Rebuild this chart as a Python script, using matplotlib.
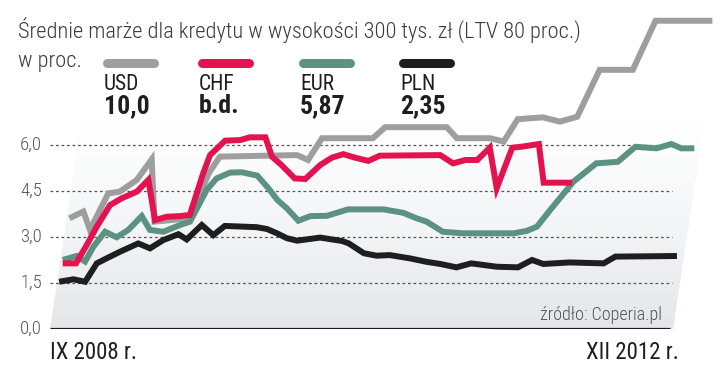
import numpy as np
import matplotlib
matplotlib.use("Agg")
import matplotlib.pyplot as plt
from matplotlib import font_manager
from matplotlib.patches import Polygon
from matplotlib.lines import Line2D

# months since IX 2008 and margins in %
usd_t = [0.06, 1.16, 1.95, 3.03, 4.0, 5.27, 6.27, 7.3, 9.4, 10.2, 11.3, 12.0, 18.5, 19.5, 20.4,
         24.7, 25.6, 30.8, 31.8, 34.6, 35.8, 36.7, 38.8, 40.3, 41.7, 43.0, 45.8, 47.1, 51.9]
usd_v = [3.61, 3.83, 3.23, 4.42, 4.48, 4.86, 5.53, 3.5, 3.58, 3.65, 5.1, 5.62, 5.67, 5.51, 6.22,
         6.22, 6.58, 6.58, 6.22, 6.22, 6.11, 6.84, 6.9, 6.76, 6.92, 8.45, 8.45, 10.05, 10.05]

chf_t = [0.07, 1.19, 1.87, 2.49, 3.33, 4.23, 5.43, 6.25, 7.32, 8.27, 9.38, 10.2, 10.8, 11.15,
         12.24, 13.5, 14.3, 15.6, 16.4, 17.3, 18.6, 19.5, 20.6, 21.5, 22.4, 23.4, 24.6, 25.5,
         30.6, 31.8, 32.8, 33.8, 34.7, 35.8, 36.6, 37.5, 38.8, 39.7, 42.1]
chf_v = [2.14, 2.14, 2.74, 3.34, 4.04, 4.26, 4.48, 4.86, 3.55, 3.66, 3.68, 3.72, 5.08, 5.67,
         6.14, 6.16, 6.25, 6.25, 5.62, 5.35, 4.91, 4.89, 5.35, 5.59, 5.7, 5.59, 5.48, 5.65,
         5.67, 5.4, 5.51, 5.51, 5.91, 4.59, 5.91, 5.95, 6.03, 4.77, 4.77]

eur_t = [0.03, 1.16, 1.94, 2.45, 3.25, 4.3, 5.19, 6.15, 7.02, 8.17, 9.5, 10.3, 11.3, 12.0,
         13.07, 14.05, 15.4, 16.5, 17.4, 18.3, 19.45, 20.4, 21.8, 23.5, 26.5, 28.2, 29.4, 30.3,
         31.8, 33.5, 37.8, 38.9, 39.7, 40.6, 42.2, 43.9, 45.7, 47.0, 48.8, 50.0, 50.9, 52.0]
eur_v = [2.25, 2.38, 2.2, 2.68, 3.17, 2.99, 3.23, 3.68, 3.23, 3.17, 3.39, 3.5, 4.53, 4.91,
         5.1, 5.11, 5.0, 4.59, 4.21, 3.94, 3.53, 3.68, 3.69, 3.9, 3.9, 3.79, 3.61, 3.5,
         3.17, 3.12, 3.12, 3.2, 3.34, 3.88, 4.8, 5.4, 5.45, 5.94, 5.89, 6.03, 5.89, 5.89]

pln_t = [0, 1.18, 2.2, 2.95, 3.7, 4.77, 6.2, 7.26, 8.28, 9.48, 10.25, 11.34, 12.44, 13.3, 16.0,
         16.9, 17.8, 18.7, 19.6, 21.5, 23.4, 24.0, 25.4, 26.5, 27.6, 29.4, 30.8, 32.0, 33.4,
         34.6, 36.8, 38.6, 39.7, 40.7, 42.9, 45.8, 46.7, 51.9]
pln_v = [1.54, 1.62, 1.54, 2.14, 2.3, 2.52, 2.79, 2.63, 2.9, 3.09, 2.92, 3.39, 3.06, 3.36, 3.32,
         3.26, 3.12, 2.96, 2.88, 2.98, 2.87, 2.79, 2.47, 2.39, 2.41, 2.3, 2.19, 2.12, 2.01,
         2.14, 2.03, 2.01, 2.25, 2.12, 2.17, 2.14, 2.36, 2.38]

names = ["USD", "CHF", "EUR", "PLN"]
last = ["10,0", "b.d.", "5,87", "2,35"]
colors = ["#9e9e9e", "#e2134f", "#5b9282", "#1e1e1e"]
yticks = [0, 1.5, 3.0, 4.5, 6.0]
ylabels = ["0,0", "1,5", "3,0", "4,5", "6,0"]
title = "Średnie marże dla kredytu w wysokości 300 tys. zł (LTV 80 proc.)"

K = 0.39  # slant of the chart: months shifted per 1 p.p.


def slant(t, v):
    return np.asarray(t) + K * np.asarray(v)


# look for a narrow face, the original uses a condensed font
fonts = font_manager.fontManager.ttflist
family, stretch = 'Roboto', 'normal'
for fam, st in [('Roboto Condensed', None), ('Liberation Sans Narrow', None),
                ('Open Sans Condensed', None), ('Noto Sans Condensed', None),
                ('Noto Sans', 'condensed'), ('Open Sans', 'condensed'),
                ('DejaVu Sans Condensed', None), ('DejaVu Sans', 'condensed')]:
    if any(f.name == fam and (st is None or str(f.stretch) == st) for f in fonts):
        family, stretch = fam, (st or 'normal')
        break
plt.rcParams['font.family'] = [family, 'DejaVu Sans']
plt.rcParams['font.stretch'] = stretch

fig = plt.figure(figsize=(7.2, 3.78), dpi=100)
ax = fig.add_axes([50 / 720, 49 / 378, 654 / 720, 319 / 378])
s = 11.83
ax.set_xlim(-2 / s, 652 / s)
ax.set_ylim(0, 10.4)
ax.axis('off')

# shaded slanted background
top = 6.7
poly = Polygon([(-0.17, 0), (52.5, 0), (52.5 + K * top, top), (-0.17 + K * top, top)],
               closed=True, facecolor='none', edgecolor='none')
ax.add_patch(poly)
grad = np.linspace(0, 1, 256).reshape(-1, 1)
cmap = matplotlib.colors.LinearSegmentedColormap.from_list("g", ["#e4e6ea", "#f4f5f7", "#ffffff"])
im = ax.imshow(grad, cmap=cmap, aspect='auto', origin='lower',
               extent=[-0.5, 56, 0, top], zorder=0)
im.set_clip_path(poly)

for y in yticks[1:]:
    ax.hlines(y, -0.17, 52.4, colors='#555555', linewidth=0.9,
              linestyles=(0, (2.2, 2.2)), zorder=1)
ax.hlines(0, -0.17, 52.2, colors='#1e1e1e', linewidth=2.3, zorder=6)

series = [(usd_t, usd_v), (chf_t, chf_v), (eur_t, eur_v), (pln_t, pln_v)]
order = [2, 4, 3, 5]
for (t, v), c, z in zip(series, colors, order):
    ax.plot(slant(t, v), v, color=c, linewidth=4.3, solid_joinstyle='miter',
            solid_capstyle='butt', zorder=z, clip_on=False)

for y, lab in zip(yticks, ylabels):
    ax.text(-10 / s, y, lab, ha='right', va='center', fontsize=13.5,
            fontweight='light', color='#555555')

ax.text(-2 / s, -0.75, "IX 2008 r.", ha='left', va='center', fontsize=16.5, color='#1e1e1e')
ax.text(53.0, -0.75, "XII 2012 r.", ha='right', va='center', fontsize=16.5, color='#1e1e1e')
ax.text(51.6, 0.45, "źródło: Coperia.pl", ha='right', va='center', fontsize=13,
        fontweight='light', color='#555555')

tt = fig.text(18 / 720, 1 - 30 / 378, title, ha='left', va='center', fontsize=15,
              fontweight='light', color='#3a3a3a')
fig.canvas.draw()
w = tt.get_window_extent().width
tt.set_fontsize(15 * 564 / w)
fig.text(18 / 720, 1 - 61 / 378, "w proc.", ha='left', va='center',
         fontsize=tt.get_fontsize(), fontweight='light', color='#3a3a3a')

xs = [103, 198, 299, 399]
for x, n, l, c in zip(xs, names, last, colors):
    fig.add_artist(Line2D([(x + 4) / 720, (x + 51) / 720], [1 - 62.5 / 378, 1 - 62.5 / 378],
                          color=c, linewidth=6.5, solid_capstyle='round'))
    fig.text((x + 1) / 720, 1 - 90 / 378, n, ha='left', va='baseline', fontsize=15.5, color='#1e1e1e')
    fig.text((x + 1) / 720, 1 - 113 / 378, l, ha='left', va='baseline', fontsize=18.5,
             fontweight='bold', color='#1e1e1e')

fig.savefig("out.png", dpi=100)
